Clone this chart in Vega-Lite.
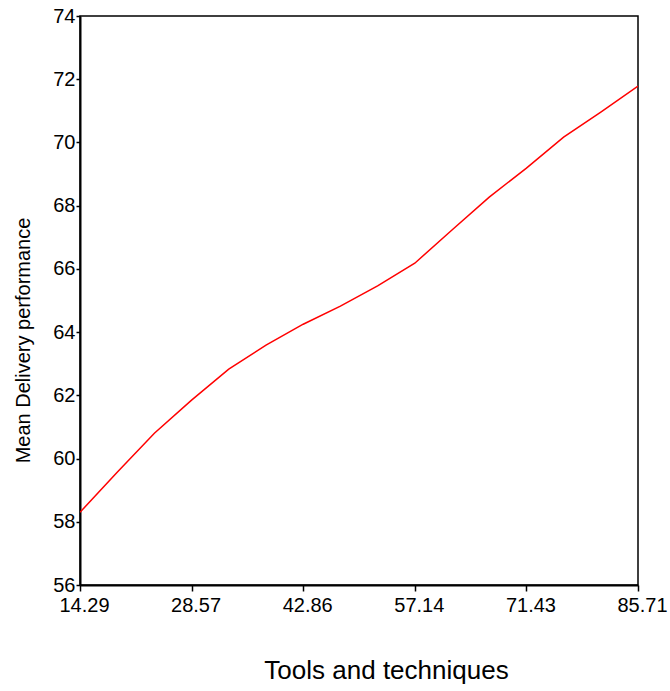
{
  "$schema": "https://vega.github.io/schema/vega-lite/v6.json",
  "autosize": {"type": "none"},
  "padding": {"left": 80, "top": 16, "right": 32, "bottom": 106},
  "width": 558,
  "height": 569,
  "background": "white",
  "config": {
    "view": {"stroke": "black", "strokeWidth": 1.5},
    "axis": {"grid": false, "domainColor": "black", "domainWidth": 2, "tickColor": "black", "tickWidth": 1.5, "labelColor": "black", "titleColor": "black", "labelFont": "Liberation Sans", "titleFont": "Liberation Sans", "titleFontWeight": "normal"}
  },
  "data": {
    "values": [
      {"x": 14.29, "y": 58.30},
      {"x": 19.05, "y": 59.57},
      {"x": 23.81, "y": 60.80},
      {"x": 28.57, "y": 61.85},
      {"x": 33.33, "y": 62.83},
      {"x": 38.10, "y": 63.59},
      {"x": 42.86, "y": 64.25},
      {"x": 47.62, "y": 64.82},
      {"x": 52.38, "y": 65.46},
      {"x": 57.14, "y": 66.18},
      {"x": 61.90, "y": 67.23},
      {"x": 66.67, "y": 68.27},
      {"x": 71.43, "y": 69.19},
      {"x": 76.19, "y": 70.17},
      {"x": 80.95, "y": 70.96},
      {"x": 85.71, "y": 71.78}
    ]
  },
  "mark": {"type": "line", "color": "#ff0000", "strokeWidth": 1.5, "clip": true},
  "encoding": {
    "x": {
      "field": "x", "type": "quantitative",
      "scale": {"domain": [14.29, 85.71], "nice": false, "zero": false},
      "axis": {
        "values": [14.29, 28.57, 42.86, 57.14, 71.43, 85.71],
        "format": ".2f",
        "title": "Tools and techniques",
        "labelFontSize": 20,
        "tickSize": 6,
        "labelPadding": 4,
        "labelOffset": 4,
        "labelFlush": false,
        "titleFontSize": 26,
        "titleX": 306,
        "titleY": 93,
        "titleAnchor": "middle",
        "titleAlign": "center",
        "titleBaseline": "alphabetic"
      }
    },
    "y": {
      "field": "y", "type": "quantitative",
      "scale": {"domain": [56, 74], "nice": false, "zero": false},
      "axis": {
        "values": [56, 58, 60, 62, 64, 66, 68, 70, 72, 74],
        "title": "Mean Delivery performance",
        "labelFontSize": 20,
        "tickSize": 4,
        "labelPadding": 1,
        "labelFlush": false,
        "titleFontSize": 20,
        "titleAngle": 270,
        "titleX": -57,
        "titleY": 324,
        "titleAlign": "center",
        "titleBaseline": "middle"
      }
    }
  }
}
